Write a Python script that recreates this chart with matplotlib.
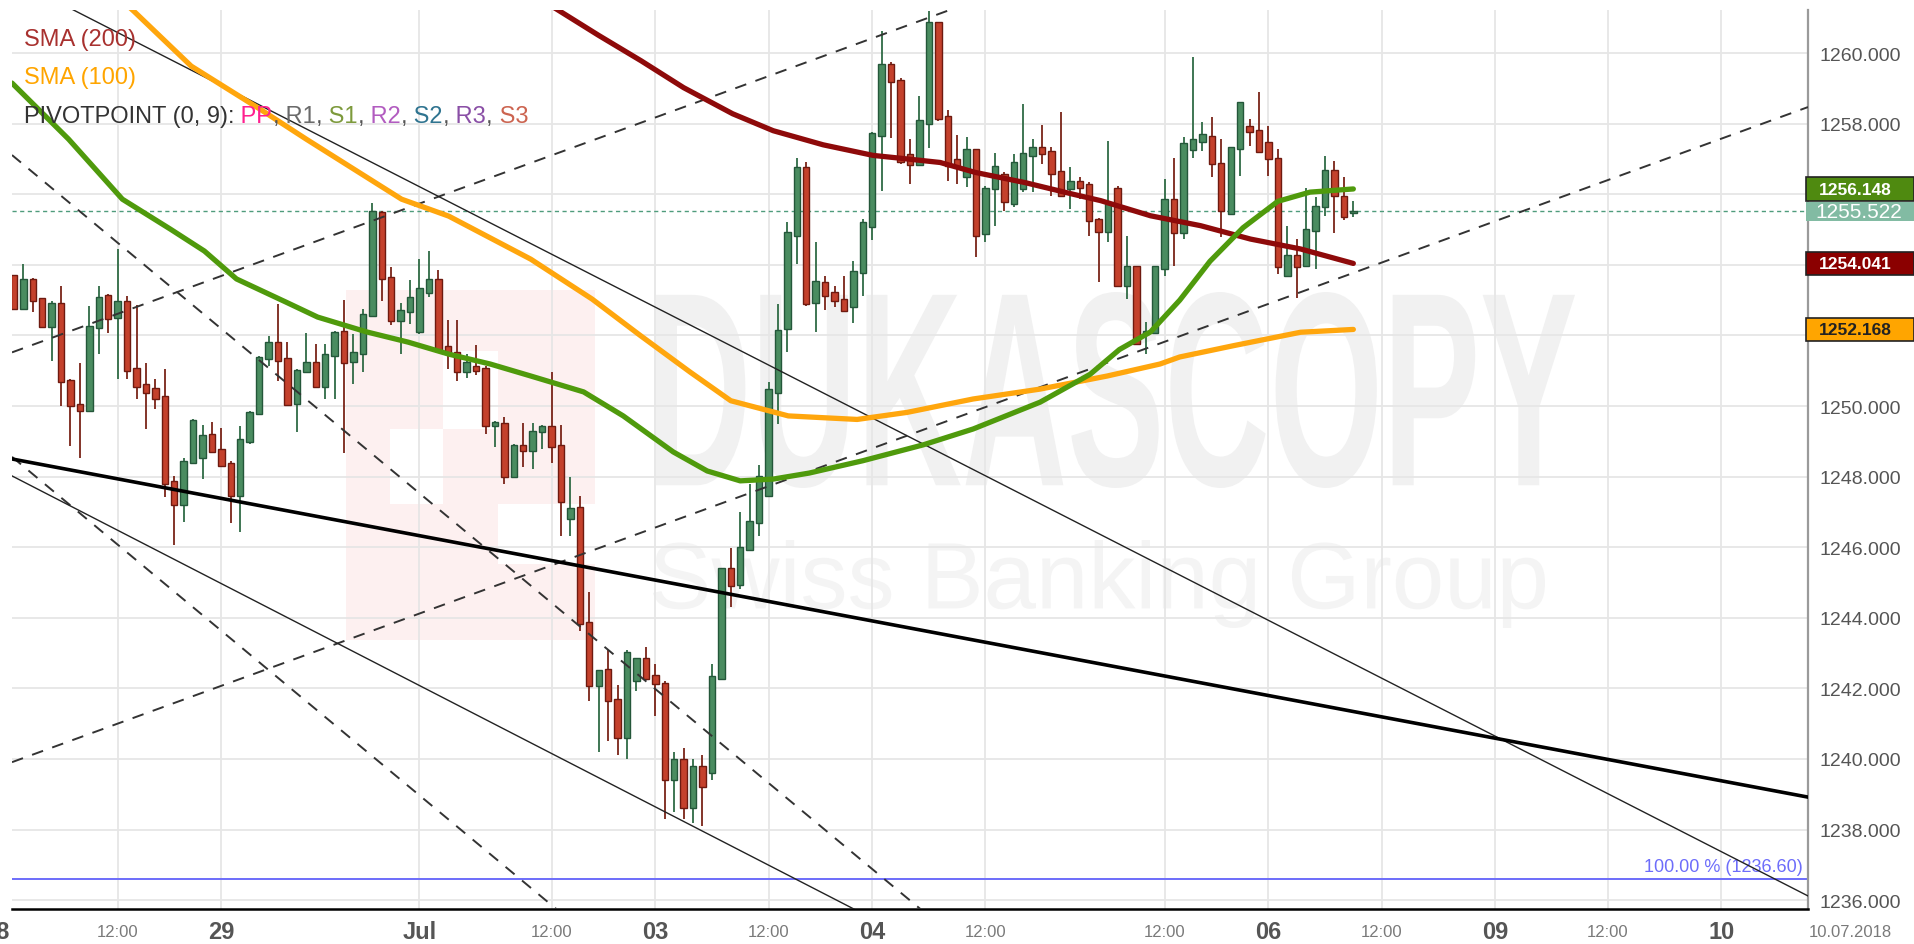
import matplotlib
matplotlib.use("Agg")
import matplotlib.pyplot as plt
import numpy as np
from matplotlib.patches import Rectangle, PathPatch
from matplotlib.textpath import TextPath
from matplotlib.font_manager import FontProperties
from matplotlib.transforms import Affine2D, blended_transform_factory
from matplotlib.ticker import FuncFormatter

plt.rcParams['font.family'] = ['Liberation Sans', 'DejaVu Sans']
NARROW = ['Liberation Sans Narrow', 'Liberation Sans', 'DejaVu Sans']

# hourly gold candles (x = candle number)
opens = [1253.71, 1252.74, 1253.61, 1253.05, 1252.25, 1252.93, 1250.74, 1250.05, 1249.86, 1252.20,
         1253.14, 1252.48, 1252.98, 1251.07, 1250.62, 1250.50, 1250.29, 1247.88, 1247.19, 1248.40,
         1248.52, 1249.22, 1248.78, 1248.40, 1247.46, 1248.97, 1249.77, 1251.33, 1251.82, 1251.36,
         1250.05, 1250.95, 1251.24, 1250.55, 1251.43, 1252.13, 1251.24, 1251.47, 1252.54, 1255.50,
         1253.66, 1252.41, 1252.65, 1252.10, 1253.19, 1253.61, 1251.71, 1251.52, 1250.95, 1251.14,
         1251.09, 1249.44, 1249.52, 1247.98, 1248.89, 1248.73, 1249.25, 1249.44, 1248.89, 1246.80,
         1247.13, 1243.87, 1242.08, 1242.55, 1241.70, 1240.60, 1242.21, 1242.85, 1242.38, 1242.15,
         1239.40, 1240.00, 1238.60, 1239.80, 1239.60, 1242.28, 1245.40, 1244.93, 1245.93, 1246.69,
         1247.46, 1250.37, 1252.18, 1254.82, 1256.76, 1252.92, 1253.50, 1253.22, 1253.03, 1252.80,
         1253.77, 1255.06, 1257.66, 1259.69, 1259.24, 1257.14, 1256.83, 1257.99, 1260.87, 1258.22,
         1257.00, 1256.50, 1257.28, 1254.87, 1256.15, 1256.57, 1255.72, 1256.15, 1257.09, 1257.33,
         1257.23, 1256.67, 1256.15, 1256.38, 1256.29, 1255.30, 1254.92, 1256.19, 1253.41, 1253.96,
         1252.04, 1252.07, 1253.88, 1255.86, 1254.90, 1257.26, 1257.47, 1257.66, 1256.88, 1255.44,
         1257.28, 1257.94, 1257.83, 1257.49, 1257.04, 1253.67, 1254.28, 1253.96, 1254.97, 1255.63,
         1256.70, 1255.96, 1255.47]
highs = [1253.71, 1254.02, 1253.64, 1253.05, 1252.98, 1253.39, 1250.76, 1251.21, 1252.82, 1253.39,
         1253.17, 1254.46, 1253.12, 1252.86, 1251.22, 1250.76, 1251.05, 1248.02, 1248.54, 1249.63,
         1249.46, 1249.55, 1249.39, 1248.45, 1249.44, 1249.86, 1251.43, 1251.99, 1252.89, 1251.82,
         1251.05, 1252.06, 1251.77, 1251.75, 1252.13, 1253.00, 1252.04, 1252.74, 1255.75, 1255.53,
         1253.95, 1252.93, 1253.57, 1254.16, 1254.40, 1253.85, 1252.43, 1252.43, 1251.47, 1251.72,
         1251.14, 1249.58, 1249.68, 1248.92, 1249.52, 1249.51, 1249.46, 1250.97, 1249.46, 1247.99,
         1247.44, 1244.72, 1242.53, 1243.09, 1242.10, 1243.10, 1242.85, 1243.16, 1242.69, 1242.20,
         1240.20, 1240.30, 1240.00, 1240.10, 1242.69, 1245.40, 1245.97, 1246.99, 1247.80, 1248.33,
         1250.69, 1252.89, 1255.20, 1257.02, 1256.92, 1254.64, 1253.69, 1253.41, 1253.67, 1254.12,
         1255.30, 1257.75, 1260.63, 1259.75, 1259.28, 1257.56, 1258.79, 1261.20, 1260.87, 1258.39,
         1257.68, 1257.61, 1257.28, 1256.24, 1257.17, 1256.62, 1257.14, 1258.56, 1257.56, 1257.96,
         1257.33, 1258.34, 1256.76, 1256.48, 1256.34, 1255.34, 1257.52, 1256.24, 1254.81, 1253.96,
         1252.37, 1253.98, 1256.43, 1257.04, 1257.61, 1259.88, 1258.04, 1258.18, 1257.56, 1257.33,
         1258.62, 1258.13, 1258.90, 1257.94, 1257.28, 1255.11, 1254.73, 1256.19, 1255.91, 1257.09,
         1256.95, 1256.50, 1255.82]
lows = [1252.74, 1252.74, 1252.65, 1252.25, 1251.28, 1250.01, 1248.87, 1248.54, 1249.86, 1251.47,
        1252.08, 1250.76, 1250.76, 1250.21, 1249.36, 1249.91, 1247.41, 1246.06, 1246.72, 1248.40,
        1247.93, 1248.70, 1248.31, 1246.70, 1246.42, 1248.92, 1249.77, 1251.14, 1250.71, 1250.01,
        1249.27, 1250.93, 1250.50, 1250.21, 1250.21, 1248.68, 1250.62, 1250.95, 1252.51, 1252.98,
        1252.29, 1251.47, 1252.32, 1252.04, 1253.08, 1251.56, 1251.05, 1250.71, 1250.78, 1250.88,
        1249.20, 1248.83, 1247.79, 1247.98, 1248.26, 1248.21, 1248.78, 1248.40, 1246.33, 1246.33,
        1243.64, 1241.65, 1240.20, 1240.50, 1240.10, 1240.00, 1241.94, 1242.28, 1241.23, 1238.30,
        1238.50, 1238.30, 1238.20, 1238.10, 1239.40, 1242.28, 1244.30, 1244.82, 1245.90, 1246.33,
        1247.46, 1249.49, 1251.52, 1254.02, 1252.84, 1252.09, 1252.73, 1252.80, 1252.67, 1252.35,
        1253.13, 1254.71, 1256.10, 1257.58, 1256.86, 1256.29, 1256.83, 1257.30, 1258.08, 1256.38,
        1256.29, 1256.20, 1254.21, 1254.64, 1255.11, 1255.53, 1255.63, 1256.05, 1256.07, 1256.86,
        1255.96, 1255.91, 1255.58, 1255.86, 1254.83, 1253.50, 1254.64, 1253.41, 1253.03, 1251.76,
        1251.47, 1252.07, 1253.69, 1253.98, 1254.73, 1257.04, 1257.23, 1256.48, 1254.78, 1255.44,
        1256.53, 1257.38, 1257.19, 1256.53, 1253.74, 1253.65, 1253.05, 1253.96, 1253.88, 1255.39,
        1254.90, 1255.28, 1255.35]
closes = [1252.74, 1253.61, 1252.98, 1252.25, 1252.93, 1250.67, 1249.99, 1249.86, 1252.27, 1253.10,
          1252.46, 1252.98, 1251.00, 1250.55, 1250.38, 1250.21, 1247.79, 1247.19, 1248.45, 1249.61,
          1249.18, 1248.70, 1248.31, 1247.46, 1249.06, 1249.84, 1251.38, 1251.82, 1251.28, 1250.03,
          1251.03, 1251.24, 1250.55, 1251.47, 1252.10, 1251.22, 1251.52, 1252.60, 1255.53, 1253.61,
          1252.41, 1252.72, 1253.10, 1253.33, 1253.61, 1251.56, 1251.50, 1250.95, 1251.24, 1251.00,
          1249.44, 1249.55, 1247.98, 1248.89, 1248.73, 1249.30, 1249.44, 1248.83, 1247.29, 1247.10,
          1243.82, 1242.08, 1242.53, 1241.63, 1240.60, 1243.04, 1242.85, 1242.28, 1242.13, 1239.40,
          1240.00, 1238.60, 1239.80, 1239.20, 1242.36, 1245.40, 1244.89, 1246.02, 1246.75, 1248.03,
          1250.48, 1252.16, 1254.92, 1256.76, 1252.89, 1253.55, 1253.13, 1252.98, 1252.70, 1253.83,
          1255.20, 1257.73, 1259.69, 1259.17, 1256.90, 1256.83, 1258.11, 1260.87, 1258.13, 1256.81,
          1256.76, 1257.28, 1254.82, 1256.19, 1256.80, 1255.77, 1256.90, 1257.17, 1257.33, 1257.14,
          1256.57, 1255.96, 1256.38, 1256.19, 1255.25, 1254.94, 1255.72, 1253.41, 1253.96, 1251.76,
          1252.13, 1253.98, 1255.86, 1254.90, 1257.45, 1257.56, 1257.71, 1256.86, 1255.53, 1257.33,
          1258.62, 1257.75, 1257.19, 1256.99, 1253.93, 1254.28, 1253.93, 1255.01, 1255.68, 1256.70,
          1255.96, 1255.35, 1255.52]

# moving averages (candle number, price)
sma200_x = [55, 57.5, 62, 66.5, 71, 76.2, 80.5, 85.8, 91.1, 94, 98.2, 101.9, 107.2, 112.3,
            115.2, 120.5, 125.8, 131.1, 136.4, 142]
sma200_y = [1261.65, 1261.25, 1260.5, 1259.78, 1259.02, 1258.28, 1257.8, 1257.4, 1257.1, 1257.02,
            1256.9, 1256.62, 1256.33, 1256.0, 1255.82, 1255.39, 1255.11, 1254.73, 1254.45, 1254.04]
sma100_x = [11, 12.7, 18.8, 26.1, 31.0, 41.1, 46.1, 54.8, 61.3, 66.4, 71.7, 76.0, 82.1, 89.4,
            94.7, 101.7, 108.8, 115.9, 121.5, 123.6, 129.3, 136.4, 142]
sma100_y = [1261.6, 1261.19, 1259.63, 1258.41, 1257.56, 1255.86, 1255.38, 1254.16, 1253.03,
            1252.0, 1250.96, 1250.15, 1249.72, 1249.62, 1249.82, 1250.2, 1250.48, 1250.85,
            1251.19, 1251.39, 1251.71, 1252.09, 1252.17]
sma50_x = [-0.2, 5.8, 11.5, 16.6, 20.2, 23.6, 28.8, 32.2, 37.4, 41.8, 46.1, 50.5, 54.8, 60.4,
           64.6, 69.9, 73.5, 77.0, 80.5, 84.3, 90, 96.4, 101.7, 108.8, 114.1, 117.2, 120.5,
           123.6, 126.8, 130.3, 134.0, 137.4, 142]
sma50_y = [1259.15, 1257.56, 1255.86, 1255.01, 1254.39, 1253.6, 1252.95, 1252.52, 1252.10,
           1251.81, 1251.47, 1251.19, 1250.85, 1250.40, 1249.72, 1248.70, 1248.16, 1247.88,
           1247.93, 1248.1, 1248.45, 1248.9, 1249.35, 1250.11, 1250.9, 1251.6, 1252.1, 1253.0,
           1254.1, 1255.05, 1255.8, 1256.06, 1256.15]

# drawn trend lines: (x0, p0, x1, p1)
dashed_lines = [(-0.2, 1251.52, 99.0, 1261.20),
                (-0.2, 1239.91, 190.2, 1258.47),
                (-0.2, 1257.11, 96.1, 1235.75),
                (-0.2, 1248.56, 57.5, 1235.75)]
thin_lines = [(-0.2, 1262.11, 190.2, 1236.12),
              (-0.2, 1248.02, 90.5, 1235.55)]
thick_line = (-0.2, 1248.50, 190.2, 1238.92)

last_price = 1255.522
fib_level = 1236.60
sma50_last, sma200_last, sma100_last = 1256.148, 1254.041, 1252.168

tick_pos = [11, 22, 43, 57, 68, 80, 91, 103, 122, 133, 145, 157, 169, 181]
tick_labels = ['12:00', '29', 'Jul', '12:00', '03', '12:00', '04', '12:00', '12:00', '06',
               '12:00', '09', '12:00', '10']

W, H = 1915, 945
fig = plt.figure(figsize=(W / 100, H / 100), dpi=100)
ax = fig.add_axes([12 / W, 1 - 910 / H, 1796 / W, 899 / H])
ax.set_xlim(-0.2, 190.2)
ax.set_ylim(1235.75, 1261.22)
ax.set_axisbelow(True)
ax.grid(True, color='#e6e6e6', lw=1.3)


def stretched(s, x0, y0, x1, y1, color, weight='normal'):
    tp = TextPath((0, 0), s, size=100, prop=FontProperties(family='Liberation Sans', weight=weight))
    bb = tp.get_extents()
    tr = Affine2D().translate(-bb.x0, -bb.y0).scale((x1 - x0) / bb.width, (y1 - y0) / bb.height)
    tr = tr.translate(x0, H - y1)
    ax.add_artist(PathPatch(tp, transform=tr, facecolor=color, edgecolor='none', zorder=0.2))


# watermark
logo = Rectangle((346, H - 641), 249, 350, transform=Affine2D(), facecolor='#fdf0f0',
                 edgecolor='none', zorder=0.1)
ax.add_artist(logo)
for (lx, ly, lw_, lh) in [(390, 430, 53, 75), (443, 352, 55, 78), (498, 505, 97, 60)]:
    ax.add_artist(Rectangle((lx, H - ly - lh), lw_, lh, transform=Affine2D(),
                            facecolor='white', edgecolor='none', zorder=0.15))
stretched('DUKASCOPY', 656, 293, 1575, 489, '#f1f1f1', 'bold')
stretched('Swiss Banking Group', 653, 541, 1545, 629, '#f4f4f4')

# candles
o, h, l, c = map(np.array, (opens, highs, lows, closes))
idx = np.arange(len(o))
up = c >= o
dn = ~up
ax.vlines(idx[up], l[up], h[up], color='#2f6b45', lw=1.3, zorder=3)
ax.vlines(idx[dn], l[dn], h[dn], color='#7a2418', lw=1.3, zorder=3)
ax.bar(idx[up], (c - o)[up], bottom=o[up], width=0.68, color='#4a8c60', edgecolor='#24573a',
       lw=1.0, zorder=4)
ax.bar(idx[dn], (c - o)[dn], bottom=o[dn], width=0.68, color='#c4412c', edgecolor='#6e1a10',
       lw=1.0, zorder=4)

# horizontal levels
ax.axhline(last_price, color='#4f9c7c', lw=1.0, ls=(0, (3, 2.5)), zorder=2)
ax.axhline(fib_level, color='#6d6dfa', lw=1.4, zorder=2)

# trend lines
for x0, p0, x1, p1 in dashed_lines:
    ax.plot([x0, x1], [p0, p1], color='#333333', lw=1.4, ls=(0, (6, 5)), zorder=5)
for x0, p0, x1, p1 in thin_lines:
    ax.plot([x0, x1], [p0, p1], color='#222222', lw=1.0, zorder=5)
ax.plot([thick_line[0], thick_line[2]], [thick_line[1], thick_line[3]], color='black', lw=2.6,
        zorder=5)

# moving averages
ax.plot(sma200_x, sma200_y, color='#8e0a0a', lw=3.8, zorder=6, solid_capstyle='round',
        solid_joinstyle='round')
ax.plot(sma100_x, sma100_y, color='#ffa60d', lw=3.8, zorder=6, solid_capstyle='round',
        solid_joinstyle='round')
ax.plot(sma50_x, sma50_y, color='#4f9a0c', lw=3.8, zorder=6, solid_capstyle='round',
        solid_joinstyle='round')

# axes styling
for side in ['left', 'top']:
    ax.spines[side].set_visible(False)
ax.spines['right'].set_color('#9a9a9a')
ax.spines['right'].set_linewidth(1.6)
ax.spines['bottom'].set_color('black')
ax.spines['bottom'].set_linewidth(1.8)
ax.yaxis.tick_right()
ax.set_yticks(np.arange(1236, 1261, 2))
covered = [sma50_last, last_price, sma200_last, sma100_last]
ax.yaxis.set_major_formatter(FuncFormatter(
    lambda v, pos: '' if min(abs(v - m) for m in covered) < 0.6 else f'{v:.3f}'))
ax.tick_params(axis='y', length=0, pad=8.5, labelsize=14, labelcolor='#555555')
ax.set_xticks(tick_pos)
ax.set_xticklabels(tick_labels)
ax.tick_params(axis='x', length=0, pad=16.5)
for lab, txt in zip(ax.get_xticklabels(), tick_labels):
    lab.set_fontfamily(NARROW)
    lab.set_va('center')
    if txt == '12:00':
        lab.set_fontsize(12)
        lab.set_color('#7a7a7a')
    else:
        lab.set_fontsize(17)
        lab.set_fontweight('bold')
        lab.set_color('#555555')
fig.text(-4 / W, 1 - 933 / H, '28', fontsize=17, fontweight='bold', color='#555555',
         family=NARROW, ha='center', va='center')
fig.text(1809 / W, 1 - 933 / H, '10.07.2018', fontsize=12, color='#7a7a7a', family=NARROW,
         ha='left', va='center')

trans = blended_transform_factory(ax.transAxes, ax.transData)
ax.text(0.997, fib_level + 0.12, '100.00 % (1236.60)', transform=trans, ha='right',
        va='bottom', color='#6d6dfa', fontsize=13)

# value markers on the price axis
boxes = [(sma50_last, '#4f8a10', 'white', '#222222', 12.5),
         (sma200_last, '#8b0000', 'white', '#222222', 12.5),
         (sma100_last, '#ffa500', '#222222', '#222222', 12.5)]
for val, fc, tc, ec, fs in boxes:
    ax.add_patch(Rectangle((0.999, val - 0.33), 0.06, 0.66, transform=trans, facecolor=fc,
                           edgecolor=ec, lw=1.2, clip_on=False, zorder=10))
    ax.text(1.006, val, f'{val:.3f}', transform=trans, color=tc, fontsize=fs, fontweight='bold',
            ha='left', va='center', zorder=11, clip_on=False)
ax.add_patch(Rectangle((0.999, last_price - 0.27), 0.06, 0.52, transform=trans, facecolor='#82bba3',
                       edgecolor='none', clip_on=False, zorder=12))
ax.text(1.004, last_price, f'{last_price:.3f}', transform=trans, color='white', fontsize=15,
        ha='left', va='center', zorder=13, clip_on=False)

# indicator legend
fig.text(24 / W, 1 - 40 / H, 'SMA (200)', color='#a8312f', fontsize=17, va='center')
fig.text(24 / W, 1 - 78 / H, 'SMA (100)', color='#ffa500', fontsize=17, va='center')
parts = [('PIVOTPOINT (0, 9):', '#333333'), (' PP', '#ff1f8f'), (',', '#555555'),
         (' R1', '#6a6a6a'), (',', '#555555'), (' S1', '#7d9a3c'), (',', '#555555'),
         (' R2', '#b25cc0'), (',', '#555555'), (' S2', '#2f7490'), (',', '#555555'),
         (' R3', '#8a4fa6'), (',', '#555555'), (' S3', '#cc6450')]
renderer = fig.canvas.get_renderer()
xp = 24
for txt, col in parts:
    t = fig.text(xp / W, 1 - 117 / H, txt, color=col, fontsize=17, va='center')
    xp = t.get_window_extent(renderer).x1

fig.savefig('out.png', dpi=100)
